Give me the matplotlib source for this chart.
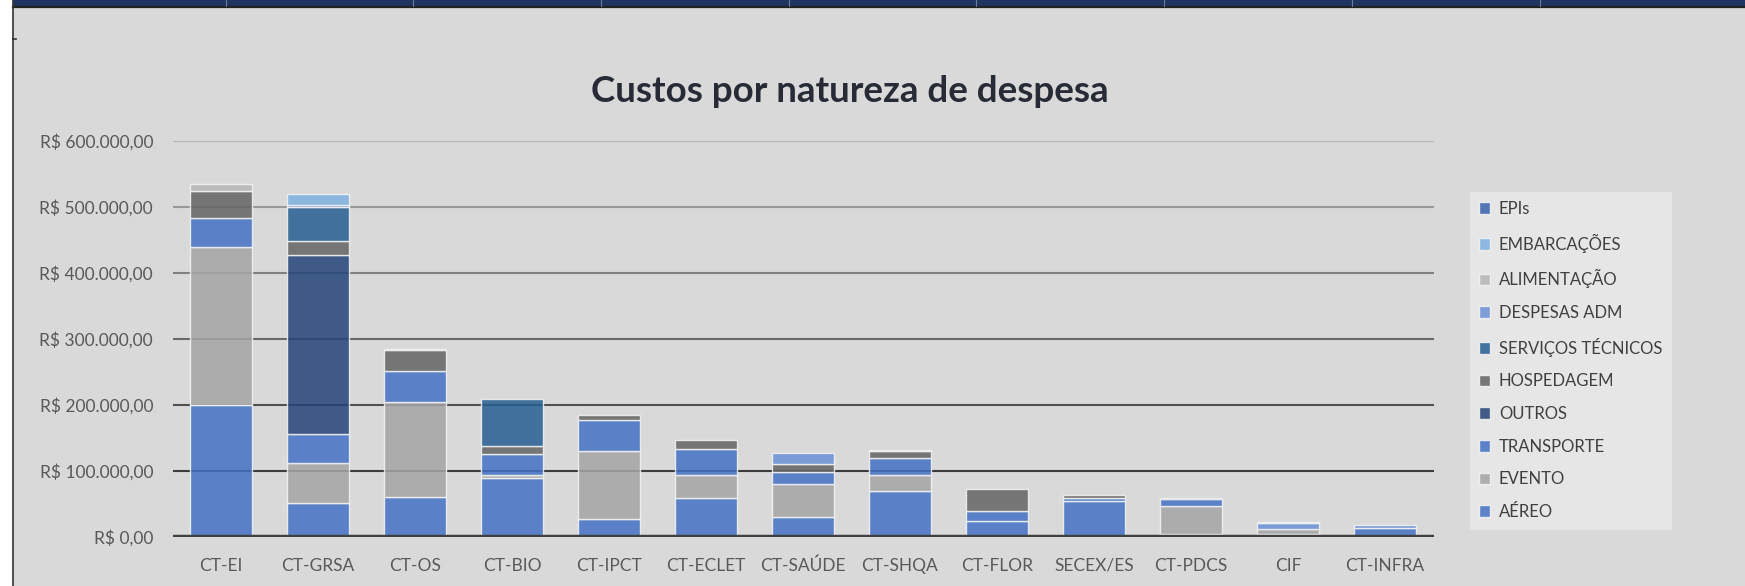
import numpy as np
import matplotlib

matplotlib.use("Agg")
import matplotlib.pyplot as plt
from matplotlib.lines import Line2D
from matplotlib.patches import Patch, Rectangle

plt.rcParams["font.family"] = ["Lato", "DejaVu Sans"]

categories = ["CT-EI", "CT-GRSA", "CT-OS", "CT-BIO", "CT-IPCT", "CT-ECLET", "CT-SAÚDE",
              "CT-SHQA", "CT-FLOR", "SECEX/ES", "CT-PDCS", "CIF", "CT-INFRA"]

# stacked bottom to top, values in R$
aereo = [200000, 52000, 61000, 90000, 28000, 58500, 31000, 70000, 25000, 54500, 4000, 4000, 14000]
evento = [240000, 60000, 144000, 3500, 102000, 35000, 49500, 24000, 0, 0, 43000, 8000, 0]
transporte = [43000, 44000, 46000, 32000, 48000, 39500, 17500, 25000, 15000, 4000, 10000, 0, 0]
outros = [0, 271000, 0, 0, 0, 0, 0, 0, 0, 0, 0, 0, 0]
hospedagem = [42000, 21000, 33000, 12000, 7000, 14000, 12000, 12000, 33000, 5000, 2500, 0, 0]
servicos_tecnicos = [0, 52500, 0, 71000, 0, 0, 0, 0, 0, 0, 0, 0, 0]
despesas_adm = [0, 2000, 0, 0, 0, 0, 18000, 0, 0, 0, 0, 9000, 4000]
alimentacao = [10000, 0, 1500, 0, 0, 0, 0, 1500, 0, 0, 0, 1500, 0]
embarcacoes = [0, 17000, 0, 0, 0, 0, 0, 0, 0, 0, 0, 0, 0]
epis = [0, 0, 0, 0, 0, 0, 0, 0, 0, 0, 0, 0, 0]

series = [
    ("AÉREO", aereo, "#4472C4"),
    ("EVENTO", evento, "#A5A5A5"),
    ("TRANSPORTE", transporte, "#4472C4"),
    ("OUTROS", outros, "#244478"),
    ("HOSPEDAGEM", hospedagem, "#646464"),
    ("SERVIÇOS TÉCNICOS", servicos_tecnicos, "#255E91"),
    ("DESPESAS ADM", despesas_adm, "#6A90D5"),
    ("ALIMENTAÇÃO", alimentacao, "#B7B7B7"),
    ("EMBARCAÇÕES", embarcacoes, "#7EB0E1"),
    ("EPIs", epis, "#3A62AE"),
]

yticks = [0, 100000, 200000, 300000, 400000, 500000, 600000]
grid_colors = ["#404040", "#3c3c3c", "#505050", "#686868", "#808080", "#999999", "#b3b3b3"]

bg = "#D9D9D9"
label_c = "#595959"

fig = plt.figure(figsize=(17.45, 5.86), dpi=100, facecolor=bg)
ax = fig.add_axes([172.5 / 1745, 49 / 586, 1261 / 1745, 396 / 586])
ax.set_facecolor(bg)

x = np.arange(len(categories))
bottom = np.zeros(len(categories))
for name, vals, color in series:
    v = np.array(vals, dtype=float)
    nz = v > 0
    if nz.any():
        ax.bar(x[nz], v[nz], bottom=bottom[nz], width=0.64, color=color, alpha=0.85,
               edgecolor="#F4F4F4", linewidth=1.0, zorder=3)
    bottom += v

for val, c in zip(yticks[1:], grid_colors[1:]):
    ax.axhline(val, color=c, linewidth=1.5, zorder=1)
ax.axhline(0, color=grid_colors[0], linewidth=3.2, zorder=4)

ax.set_xlim(-0.5, len(categories) - 0.5)
ax.set_ylim(0, 600000)
ax.set_yticks(yticks)
ax.set_yticklabels(["R$ " + f"{v:,.2f}".replace(",", "X").replace(".", ",").replace("X", ".")
                    for v in yticks])
ax.set_xticks(x)
ax.set_xticklabels(categories)
ax.tick_params(axis="y", length=0, pad=14, labelsize=12.5, labelcolor=label_c)
ax.tick_params(axis="x", length=0, pad=15, labelsize=12.5, labelcolor=label_c)
for s in ax.spines.values():
    s.set_visible(False)

fig.text(850 / 1745, 1 - 92 / 586, "Custos por natureza de despesa", ha="center", va="center",
         fontsize=26.5, fontweight="bold", color="#262B35")

handles = [Patch(facecolor=c, alpha=0.85, edgecolor="#F4F4F4", label=n)
           for n, _v, c in reversed(series)]
leg = fig.legend(handles=handles, loc="center", bbox_to_anchor=(0.9, 1 - 360.5 / 586),
                 frameon=True, fancybox=False, facecolor="#E6E6E6", edgecolor="#E6E6E6",
                 framealpha=1, fontsize=12, labelspacing=1.0, handlelength=0.7,
                 handleheight=0.7, handletextpad=0.5, borderpad=0.55, labelcolor="#404040")

# spreadsheet chrome: white margin, header band, separators and left border
fig.patches.append(Rectangle((0, 0), 13 / 1745, 1, transform=fig.transFigure,
                             facecolor="white", edgecolor="none"))
fig.patches.append(Rectangle((13 / 1745, 1 - 6 / 586), 1, 6 / 586, transform=fig.transFigure,
                             facecolor="#1F3461", edgecolor="none"))
fig.lines.append(Line2D([13 / 1745, 1], [1 - 7 / 586, 1 - 7 / 586], transform=fig.transFigure,
                        color="#222222", linewidth=1.6))
for sx in [226, 413, 601, 789, 976, 1164, 1352, 1540]:
    fig.lines.append(Line2D([sx / 1745, sx / 1745], [1 - 6 / 586, 1], transform=fig.transFigure,
                            color="#6B7A99", linewidth=0.8))
fig.lines.append(Line2D([13 / 1745, 13 / 1745], [0, 1], transform=fig.transFigure,
                        color="#333333", linewidth=1.2))
fig.lines.append(Line2D([13 / 1745, 16 / 1745], [1 - 39 / 586, 1 - 39 / 586],
                        transform=fig.transFigure, color="#333333", linewidth=1.2))

fig.savefig("out.png", dpi=100, facecolor=bg)
